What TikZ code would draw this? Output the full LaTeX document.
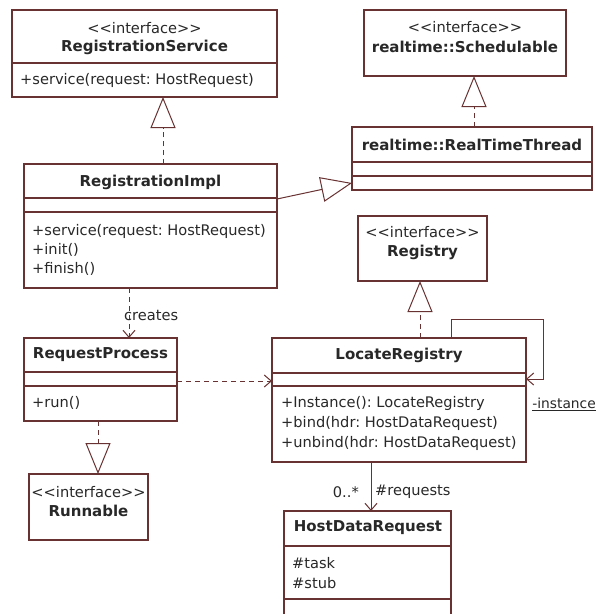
\documentclass[tikz,border=0pt]{standalone}
\usepackage{fontspec}
\setmainfont{DejaVu Sans}
\usetikzlibrary{arrows.meta}
\definecolor{lc}{RGB}{105,50,50}
\definecolor{tc}{RGB}{40,40,40}
\newcommand{\lt}{<\kern0pt<\kern0pt}
\newcommand{\gt}{\kern0pt>\kern0pt>}
\begin{document}
\frenchspacing
\begin{tikzpicture}[x=1pt,y=-1pt,
  cls/.style={draw=lc, fill=white, line width=1.1pt, anchor=north west, inner sep=0pt, outer sep=0pt},
  stereo/.style={font=\fontsize{14.6}{18}\selectfont, text=tc, inner sep=0pt},
  ctitle/.style={font=\fontsize{15}{18}\selectfont\bfseries, text=tc, inner sep=0pt},
  member/.style={font=\fontsize{14.6}{18}\selectfont, text=tc, anchor=west, inner sep=0pt},
  sep/.style={draw=lc, line width=1.1pt},
  conn/.style={draw=lc, line width=1pt},
  real/.style={conn, dash pattern=on 5pt off 4pt, -{Triangle[open, length=31pt, width=25pt, line width=1pt]}},
  gen/.style={conn, -{Triangle[open, length=31pt, width=25pt, line width=1pt]}},
  dep/.style={conn, dash pattern=on 5pt off 4pt, -{Straight Barb[length=7pt, width=12pt, line width=1pt]}},
  assoc/.style={conn, -{Straight Barb[length=7pt, width=12pt, line width=1pt]}},
  lbl/.style={font=\fontsize{14.6}{18}\selectfont, text=tc, inner sep=0pt}
]
\useasboundingbox (0,0) rectangle (597,614);
\fill[white] (0,0) rectangle (597,614);

% RegistrationService
\node[cls, minimum width=265pt, minimum height=87pt] (rs) at (12,10) {};
\draw[sep] ([yshift=-53pt]rs.north west) -- ([yshift=-53pt]rs.north east);
\node[stereo] (rs1) at (144.5,28) {\lt interface\gt};
\node[ctitle] (rs2) at (144.5,47) {RegistrationService};
\node[member] (rs3) at (20,80) {+service(request: HostRequest)};

% RegistrationImpl
\node[cls, minimum width=253pt, minimum height=124pt] (ri) at (24,164) {};
\draw[sep] ([yshift=-34pt]ri.north west) -- ([yshift=-34pt]ri.north east);
\draw[sep] ([yshift=-48pt]ri.north west) -- ([yshift=-48pt]ri.north east);
\node[ctitle] (ri1) at (150.5,182) {RegistrationImpl};
\node[member] (ri2) at (32,231) {+service(request: HostRequest)};
\node[member] (ri3) at (32,250) {+init()};
\node[member] (ri4) at (32,269) {+finish()};

% realtime::Schedulable
\node[cls, minimum width=202pt, minimum height=66pt] (sc) at (364,10) {};
\node[stereo] (sc1) at (465,27) {\lt interface\gt};
\node[ctitle] (sc2) at (465,47) {realtime::Schedulable};

% realtime::RealTimeThread
\node[cls, minimum width=240pt, minimum height=63pt] (rt) at (352,127) {};
\draw[sep] ([yshift=-35pt]rt.north west) -- ([yshift=-35pt]rt.north east);
\draw[sep] ([yshift=-49pt]rt.north west) -- ([yshift=-49pt]rt.north east);
\node[ctitle] (rt1) at (472,145) {realtime::RealTimeThread};

% Registry
\node[cls, minimum width=129pt, minimum height=65pt] (rg) at (358,216) {};
\node[stereo] (rg1) at (422.5,232) {\lt interface\gt};
\node[ctitle] (rg2) at (422.5,252) {Registry};

% RequestProcess
\node[cls, minimum width=153pt, minimum height=83pt] (rp) at (24,338) {};
\draw[sep] ([yshift=-34pt]rp.north west) -- ([yshift=-34pt]rp.north east);
\draw[sep] ([yshift=-48pt]rp.north west) -- ([yshift=-48pt]rp.north east);
\node[ctitle] (rp1) at (100.5,355) {RequestProcess};
\node[member] (rp2) at (32,403) {+run()};

% Runnable
\node[cls, minimum width=119pt, minimum height=66pt] (rn) at (29,474) {};
\node[stereo] (rn1) at (88.5,492) {\lt interface\gt};
\node[ctitle] (rn2) at (88.5,511) {Runnable};

% LocateRegistry
\node[cls, minimum width=254pt, minimum height=124pt] (lr) at (272,338) {};
\draw[sep] ([yshift=-35pt]lr.north west) -- ([yshift=-35pt]lr.north east);
\draw[sep] ([yshift=-48pt]lr.north west) -- ([yshift=-48pt]lr.north east);
\node[ctitle] (lr1) at (399,355) {LocateRegistry};
\node[member] (lr2) at (281,403) {+Instance(): LocateRegistry};
\node[member] (lr3) at (281,423) {+bind(hdr: HostDataRequest)};
\node[member] (lr4) at (281,443) {+unbind(hdr: HostDataRequest)};

% HostDataRequest
\node[cls, minimum width=167pt, minimum height=120pt] (hd) at (284,511) {};
\draw[sep] ([yshift=-35pt]hd.north west) -- ([yshift=-35pt]hd.north east);
\draw[sep] ([yshift=-88pt]hd.north west) -- ([yshift=-88pt]hd.north east);
\node[ctitle] (hd1) at (368,528) {HostDataRequest};
\node[member] (hd2) at (292,563) {\#task};
\node[member] (hd3) at (292,583) {\#stub};

% connectors
\draw[real] ([xshift=139pt]ri.north west) -- ([xshift=151pt]rs.south west);
\draw[gen] ([yshift=-35pt]ri.north east) -- ([yshift=-56pt]rt.north west);
\draw[real] ([xshift=122pt]rt.north west) -- ([xshift=110pt]sc.south west);
\draw[dep] ([xshift=105pt]ri.south west) -- ([xshift=105pt]rp.north west);
\node[lbl, anchor=west] (cr) at (124,315) {creates};
\draw[dep] ([yshift=-43pt]rp.north east) -- ([yshift=-43pt]lr.north west);
\draw[real] ([xshift=74pt]rp.south west) -- ([xshift=69pt]rn.north west);
\draw[real] ([xshift=148pt]lr.north west) -- ([xshift=62pt]rg.south west);
\draw[assoc] ([xshift=179pt]lr.north west) -- ++(0,-19) -- ++(92,0) -- ++(0,60) -- ([yshift=-41pt]lr.north east);
\node[lbl, anchor=east, font=\fontsize{13.8}{17}\selectfont] (inst) at (596,404) {\underline{-instance}};
\draw[assoc] ([xshift=99pt]lr.south west) -- ([xshift=87pt]hd.north west);
\node[lbl, anchor=east] (mult) at (359,492) {0..*};
\node[lbl, anchor=west] (role) at (375,492) {\#requests};
\end{tikzpicture}
\end{document}
